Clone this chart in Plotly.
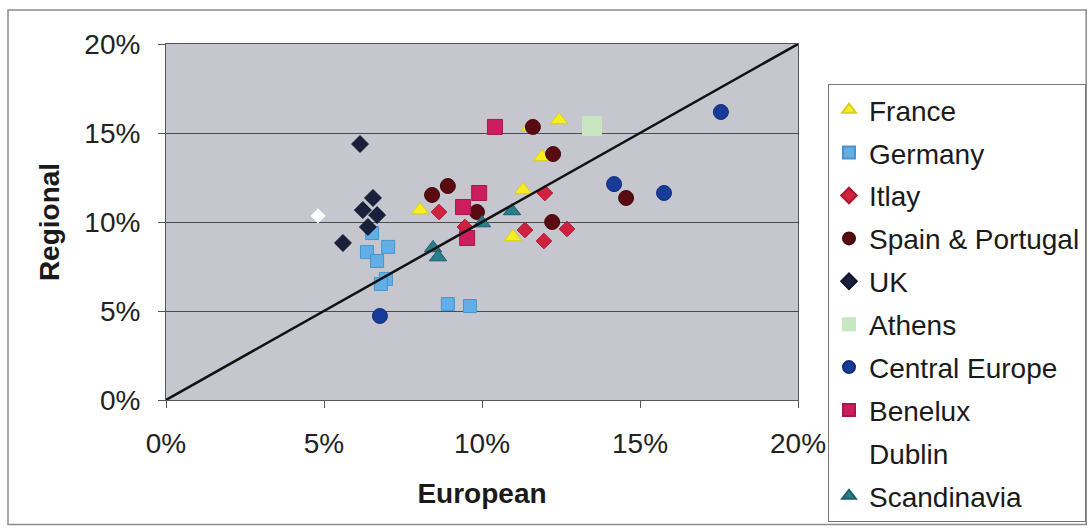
import plotly.graph_objects as go

# Regional vs European values (in %) per market
france_x = [8.04, 11.30, 11.52, 12.44, 11.90, 10.98]
france_y = [10.67, 11.80, 15.34, 15.73, 13.65, 9.16]

germany_x = [6.36, 7.03, 6.68, 6.96, 6.80, 6.52, 8.92, 9.62]
germany_y = [8.31, 8.60, 7.81, 6.80, 6.52, 9.38, 5.39, 5.28]

italy_x = [8.64, 9.46, 11.36, 11.99, 11.96, 12.69]
italy_y = [10.56, 9.72, 9.55, 11.63, 8.93, 9.61]

spain_x = [8.42, 8.92, 9.84, 11.61, 12.25, 12.22, 14.56]
spain_y = [11.52, 12.02, 10.56, 15.34, 13.82, 10.00, 11.35]

uk_x = [6.14, 6.55, 6.23, 6.68, 6.39, 5.60]
uk_y = [14.38, 11.35, 10.67, 10.39, 9.72, 8.82]

athens_x = [13.48]
athens_y = [15.39]

central_x = [17.56, 14.18, 15.76, 6.77]
central_y = [16.18, 12.13, 11.63, 4.72]

benelux_x = [10.41, 9.91, 9.40, 9.53]
benelux_y = [15.34, 11.63, 10.84, 9.10]

dublin_x = [4.81]
dublin_y = [10.34]

scand_x = [10.95, 10.00, 8.45, 8.61]
scand_y = [10.62, 9.94, 8.54, 8.03]

parity_x = [0, 20]
parity_y = [0, 20]

tick_vals = [0, 5, 10, 15, 20]
tick_text = ["0%", "5%", "10%", "15%", "20%"]

FONT = "Liberation Sans, Arial, sans-serif"

series = [
    ("France", france_x, france_y, "triangle-up", 15, "#f6ee22", "#d6cf1c"),
    ("Germany", germany_x, germany_y, "square", 13, "#62aee6", "#4a94cc"),
    ("Itlay", italy_x, italy_y, "diamond", 12, "#d0213f", "#a81830"),
    ("Spain & Portugal", spain_x, spain_y, "circle", 15, "#5a0b12", "#45080d"),
    ("UK", uk_x, uk_y, "diamond", 13, "#18203c", "#10162b"),
    ("Athens", athens_x, athens_y, "square", 19, "#c8e6c2", "#c8e6c2"),
    ("Central Europe", central_x, central_y, "circle", 15, "#173b98", "#112e7a"),
    ("Benelux", benelux_x, benelux_y, "square", 15, "#cc1d5c", "#a8174b"),
    ("Dublin", dublin_x, dublin_y, "diamond", 11, "#ffffff", "#ffffff"),
    ("Scandinavia", scand_x, scand_y, "triangle-up", 15, "#2a7d8a", "#1d5d68"),
]

fig = go.Figure()

for i, (name, xs, ys, sym, size, color, edge) in enumerate(series):
    fig.add_trace(go.Scatter(
        x=[v / 100 for v in xs],
        y=[v / 100 for v in ys],
        mode="markers",
        name=name,
        legendgroup=f"g{i}",
        marker=dict(symbol=sym, size=size, color=color,
                    line=dict(color=edge, width=1)),
    ))

# 45-degree parity line
fig.add_trace(go.Scatter(
    x=[v / 100 for v in parity_x],
    y=[v / 100 for v in parity_y],
    mode="lines",
    line=dict(color="#111111", width=2.5),
    showlegend=False,
    hoverinfo="skip",
))

axis_common = dict(
    range=[0, 0.2],
    tickvals=[v / 100 for v in tick_vals],
    ticktext=tick_text,
    showline=True,
    linecolor="#555555",
    linewidth=1,
    mirror=True,
    ticks="outside",
    ticklen=7,
    tickcolor="#555555",
    tickfont=dict(family=FONT, size=28, color="#222222"),
    zeroline=False,
)

fig.update_xaxes(
    **axis_common,
    showgrid=False,
    ticklabelstandoff=11,
    title=dict(text="<b>European</b>", font=dict(family=FONT, size=28, color="#1a1a1a"),
               standoff=25),
)
fig.update_yaxes(
    **axis_common,
    showgrid=True,
    gridcolor="#4a4a4a",
    gridwidth=1,
    ticklabelstandoff=12,
    title=dict(text="<b>Regional</b>", font=dict(family=FONT, size=28, color="#1a1a1a"),
               standoff=16),
)

# Chart-area border
fig.add_shape(type="rect", xref="paper", yref="paper",
              x0=-0.25, x1=1.456, y0=-0.35, y1=1.0955,
              line=dict(color="#8a8a8a", width=1.5), layer="below")

fig.update_layout(
    width=1089,
    height=529,
    margin=dict(l=166, r=291, t=44, b=129, autoexpand=False),
    paper_bgcolor="#ffffff",
    plot_bgcolor="#c5c6ce",
    font=dict(family=FONT, color="#222222"),
    legend=dict(
        xref="container", yref="container",
        x=828 / 1089, y=1 - 84 / 529, xanchor="left", yanchor="top",
        bgcolor="#ffffff",
        bordercolor="#777777", borderwidth=1,
        font=dict(family=FONT, size=28, color="#1a1a1a"),
        itemsizing="constant",
        tracegroupgap=3.5,
        maxheight=520,
    ),
)

fig.write_html("out.html")
